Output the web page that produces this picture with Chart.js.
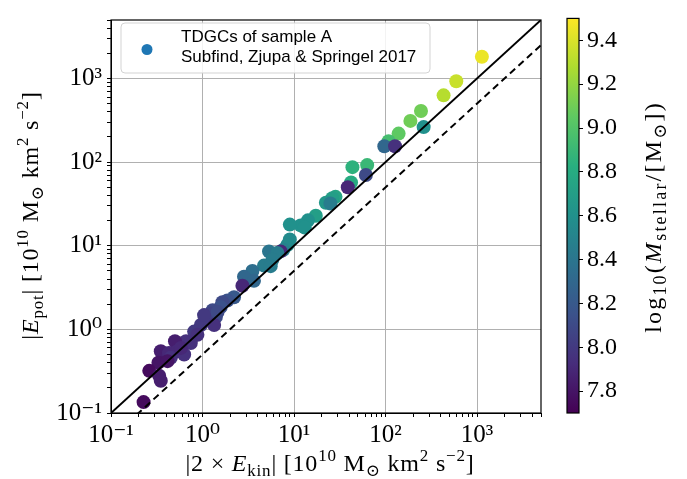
<!DOCTYPE html>
<html>
<head>
<meta charset="utf-8">
<script src="https://cdn.jsdelivr.net/npm/chart.js@4/dist/chart.umd.min.js"></script>
<style>
  body { margin: 0; background: #fff; }
  #wrap { position: relative; width: 687px; height: 479px; }
  #wrap canvas { position: absolute; left: 0; top: 0; }
</style>
</head>
<body>
<div id="wrap">
  <canvas id="mainChart" width="687" height="479"></canvas>
  <canvas id="cbarChart" width="687" height="479"></canvas>
</div>
<script>
// |2 x E_kin| vs |E_pot| voor TDGCs, kleur = log10(M_stellar)
const E_KIN = [1130, 593, 431, 244, 187, 261, 139, 108, 97, 127, 63, 43.5, 61, 42, 38.7, 28.4, 26.2, 22.3, 25, 17.3,
  14.2, 11.8, 13.1, 9.0, 9.0, 8.45, 7.64, 7.14, 5.33, 6.58, 5.8, 4.7, 3.51, 2.84, 3.65, 2.73, 2.21, 1.87, 1.65, 1.58,
  1.29, 1.23, 1.40, 1.13, 1.34, 0.96, 0.81, 0.88, 0.66, 0.745, 0.50, 0.35, 0.43, 0.53, 0.45, 0.63, 0.33, 0.262, 0.336, 0.35,
  0.227, 1.04, 1.46, 0.58, 0.415, 5.56];
const E_POT = [1816, 925, 628, 408, 311, 262, 219, 178, 155, 155, 92, 87, 70, 57, 50, 38.4, 37, 32.7, 32, 22.8,
  20.1, 17.5, 16.5, 17.9, 11.9, 10.2, 8.93, 8.55, 8.55, 8.17, 6.81, 5.79, 4.98, 4.27, 3.8, 3.32, 2.42, 2.21, 2.11, 1.85,
  1.69, 1.54, 1.41, 1.29, 1.13, 1.13, 0.94, 0.86, 0.72, 0.685, 0.72, 0.547, 0.52, 0.547, 0.457, 0.50, 0.40, 0.319, 0.279, 0.243,
  0.135, 1.48, 1.61, 0.60, 0.417, 5.7];
const LOG_MSTAR = [9.45, 9.35, 9.3, 9.1, 9.1, 8.6, 9.05, 8.95, 8.3, 7.95, 8.9, 8.85, 8.1, 8.8, 7.9, 8.75, 8.7, 8.65, 8.45, 8.7,
  8.6, 8.6, 8.6, 8.6, 8.55, 8.55, 8.5, 7.9, 8.4, 8.45, 8.45, 8.45, 8.35, 8.3, 8.3, 7.9, 8.2, 8.15, 8.1, 8.15,
  8.1, 8.05, 8.1, 8.05, 7.95, 8.0, 8.0, 7.95, 7.95, 7.95, 7.85, 7.85, 7.9, 7.9, 7.95, 7.95, 7.8, 7.75, 7.85, 7.85,
  7.75, 8.0, 8.1, 7.9, 7.8, 8.45];

// referentielijnen: 2K = |W| (doorgetrokken) en 2K = 2|W| (gestreept)
const REF_X = [0.1, 5000];
const AXIS_MIN = 0.1, AXIS_MAX = 5000;
const DECADES = [0.1, 1, 10, 100, 1000];
const CB_MIN = 7.7, CB_MAX = 9.5;
const CB_TICKS = [7.8, 8.0, 8.2, 8.4, 8.6, 8.8, 9.0, 9.2, 9.4];
const LEGEND_LINES = ['TDGCs of sample A', 'Subfind, Zjupa & Springel 2017'];

const SERIF = '"Liberation Serif", "DejaVu Serif", serif';
const FS = 24;

// viridis
const VIRIDIS = ['#440154', '#472d7b', '#3b528b', '#2c728e', '#21918c', '#28ae80', '#5ec962', '#addc30', '#fde725'];
function hexRgb(h) { return [1, 3, 5].map(i => parseInt(h.substr(i, 2), 16)); }
function viridis(t) {
    t = Math.max(0, Math.min(1, t));
    const s = t * (VIRIDIS.length - 1);
    const i = Math.min(Math.floor(s), VIRIDIS.length - 2);
    const f = s - i;
    const a = hexRgb(VIRIDIS[i]), b = hexRgb(VIRIDIS[i + 1]);
    const c = a.map((v, k) => Math.round(v + (b[k] - v) * f));
    return 'rgb(' + c.join(',') + ')';
}

const SUP = { '-': '⁻', '0': '⁰', '1': '¹', '2': '²', '3': '³', '4': '⁴', '5': '⁵', '6': '⁶', '7': '⁷', '8': '⁸', '9': '⁹' };
function powLabel(v) {
    const e = Math.round(Math.log10(v));
    if (Math.abs(Math.log10(v) - e) > 1e-6) return '';
    return '10' + String(e).split('').map(ch => SUP[ch]).join('');
}
function isDecade(v) { return Math.abs(Math.log10(v) - Math.round(Math.log10(v))) < 1e-6; }

function logTicks() {
    const out = [];
    DECADES.forEach(d => {
        for (let m = 1; m <= 9; m++) {
            const v = +(d * m).toPrecision(3);
            if (v >= AXIS_MIN && v <= AXIS_MAX) out.push({ value: v });
        }
    });
    return out;
}

// tekst met sub/superscript
function drawRich(ctx, parts, x, y, size, rotate, spacing, subScale) {
    const small = Math.round(size * (subScale || 0.7));
    const fontFor = p => (p[1] === 'i' ? 'italic ' : '') + ((p[1] === 'sub' || p[1] === 'sup') ? small : size) + 'px ' + SERIF;
    ctx.save();
    ctx.letterSpacing = (spacing || 0.8) + 'px';
    let w = 0;
    parts.forEach(p => { ctx.font = fontFor(p); w += ctx.measureText(p[0]).width; });
    ctx.translate(x, y);
    if (rotate) ctx.rotate(-Math.PI / 2);
    ctx.fillStyle = '#000';
    ctx.textAlign = 'left';
    ctx.textBaseline = 'alphabetic';
    let cx = -w / 2;
    parts.forEach(p => {
        ctx.font = fontFor(p);
        const dy = p[1] === 'sup' ? -size * 0.4 : (p[1] === 'sub' ? size * 0.2 : 0);
        ctx.fillText(p[0], cx, dy);
        cx += ctx.measureText(p[0]).width;
    });
    ctx.restore();
}

const UNIT = [[' [10', ''], ['10', 'sup'], [' M', ''], ['⊙', 'sub'], [' km', ''], ['2', 'sup'], [' s', ''], ['−2', 'sup'], [']', '']];
const X_TITLE = [['|2 × ', ''], ['E', 'i'], ['kin', 'sub'], ['|', '']].concat(UNIT);
const Y_TITLE = [['|', ''], ['E', 'i'], ['pot', 'sub'], ['|', '']].concat(UNIT);
const CB_TITLE = [['log', ''], ['10', 'sub'], ['(', ''], ['M', 'i'], ['stellar', 'sub'], ['/[M', ''], ['⊙', 'sub'], ['])', '']];

const mainDecor = {
    id: 'mainDecor',
    afterDraw(chart) {
        const ctx = chart.ctx, a = chart.chartArea;
        ctx.save();
        ctx.strokeStyle = '#000';
        ctx.lineWidth = 1.2;
        ctx.strokeRect(a.left, a.top, a.right - a.left, a.bottom - a.top);
        // legenda
        const lx = 121, ly = 23, lw = 309, lh = 50;
        ctx.fillStyle = 'rgba(255,255,255,0.85)';
        ctx.strokeStyle = '#d3d3d3';
        ctx.lineWidth = 1;
        ctx.beginPath();
        ctx.roundRect(lx, ly, lw, lh, 4);
        ctx.fill();
        ctx.stroke();
        ctx.fillStyle = '#1f77b4';
        ctx.beginPath();
        ctx.arc(147, 49.5, 5.5, 0, Math.PI * 2);
        ctx.fill();
        ctx.fillStyle = '#000';
        ctx.font = '17px "Liberation Sans", Arial, sans-serif';
        ctx.textBaseline = 'middle';
        ctx.textAlign = 'left';
        ctx.fillText(LEGEND_LINES[0], 181, 37);
        ctx.fillText(LEGEND_LINES[1], 181, 57);
        ctx.restore();
        drawRich(ctx, X_TITLE, (a.left + a.right) / 2 + 4, 471, FS, false);
        drawRich(ctx, Y_TITLE, 38, (a.top + a.bottom) / 2 - 1, FS, true);
    }
};

const points = E_KIN.map((x, i) => ({ x: x, y: E_POT[i] }));
const pointColors = LOG_MSTAR.map(m => viridis((m - CB_MIN) / (CB_MAX - CB_MIN)));

const logAxis = (pos) => ({
    type: 'logarithmic',
    position: pos,
    min: AXIS_MIN,
    max: AXIS_MAX,
    afterBuildTicks: s => { s.ticks = logTicks(); },
    afterFit: s => { if (pos === 'left') s.width = 111; else s.height = 66; },
    ticks: {
        autoSkip: false,
        maxRotation: 0,
        color: '#000',
        padding: pos === 'left' ? 5 : 3,
        font: { family: SERIF, size: FS + 1 },
        callback: v => powLabel(v)
    },
    grid: {
        color: c => (c.tick && isDecade(c.tick.value)) ? '#b0b0b0' : 'rgba(0,0,0,0)',
        lineWidth: 1,
        tickColor: '#000',
        tickLength: 4
    },
    border: { display: true, color: '#000', width: 1 }
});

new Chart(document.getElementById('mainChart'), {
    type: 'scatter',
    data: {
        datasets: [
            { type: 'line', data: REF_X.map(x => ({ x: x, y: x })), borderColor: '#000', borderWidth: 2, pointRadius: 0, clip: 0 },
            { type: 'line', data: REF_X.map(x => ({ x: x, y: x / 2 })), borderColor: '#000', borderWidth: 2, borderDash: [7, 4.5], pointRadius: 0, clip: 0 },
            { data: points, backgroundColor: pointColors, borderWidth: 0, pointRadius: 7, pointHoverRadius: 7, clip: 0 }
        ]
    },
    options: {
        responsive: false,
        animation: false,
        layout: { padding: { left: 0, top: 13, right: 146, bottom: 0 } },
        plugins: { legend: { display: false }, tooltip: { enabled: false } },
        scales: { x: logAxis('bottom'), y: logAxis('left') }
    },
    plugins: [mainDecor]
});

// kleurbalk
const cbarDecor = {
    id: 'cbarDecor',
    beforeDatasetsDraw(chart) {
        const ctx = chart.ctx, a = chart.chartArea, y = chart.scales.y;
        const g = ctx.createLinearGradient(0, y.getPixelForValue(CB_MIN), 0, y.getPixelForValue(CB_MAX));
        VIRIDIS.forEach((c, i) => g.addColorStop(i / (VIRIDIS.length - 1), c));
        ctx.save();
        ctx.fillStyle = g;
        ctx.fillRect(a.left, a.top, a.right - a.left, a.bottom - a.top);
        ctx.strokeStyle = '#000';
        ctx.lineWidth = 1.2;
        ctx.strokeRect(a.left, a.top, a.right - a.left, a.bottom - a.top);
        ctx.restore();
        drawRich(ctx, CB_TITLE, 661, 217, FS, true, 2.2, 0.75);
    }
};

new Chart(document.getElementById('cbarChart'), {
    type: 'scatter',
    data: { datasets: [] },
    options: {
        responsive: false,
        animation: false,
        layout: { padding: { left: 567, top: 13, right: 0, bottom: 66 } },
        plugins: { legend: { display: false }, tooltip: { enabled: false } },
        scales: {
            x: { display: false, min: 0, max: 1 },
            y: {
                position: 'right',
                min: CB_MIN,
                max: CB_MAX,
                afterBuildTicks: s => { s.ticks = CB_TICKS.map(v => ({ value: v })); },
                afterFit: s => { s.width = 108; },
                ticks: {
                    color: '#000',
                    padding: 4,
                    font: { family: SERIF, size: FS },
                    callback: v => v.toFixed(1)
                },
                grid: { drawOnChartArea: false, tickColor: '#000', tickLength: 4 },
                border: { display: false }
            }
        }
    },
    plugins: [cbarDecor]
});
</script>
</body>
</html>
